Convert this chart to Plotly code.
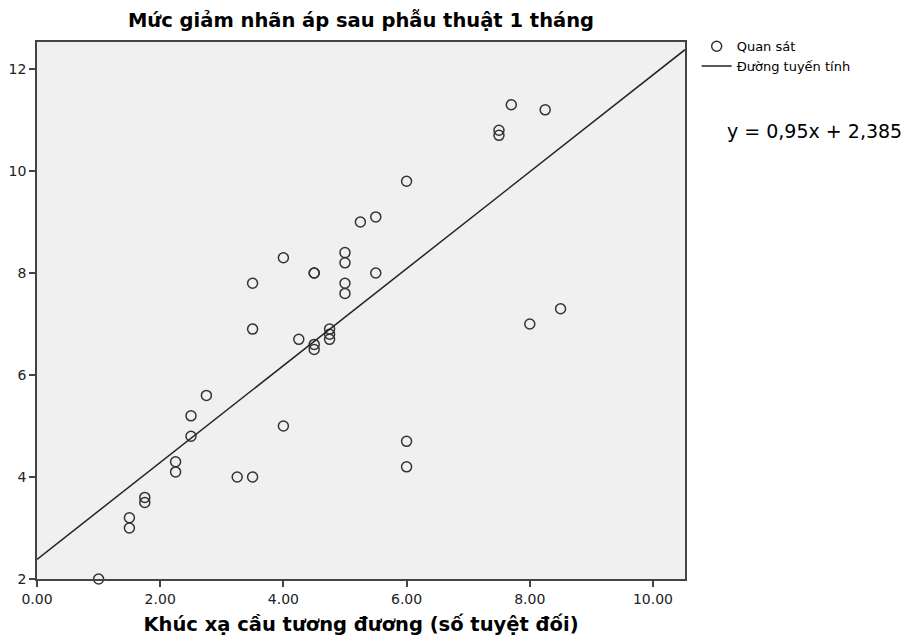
import plotly.graph_objects as go
import numpy as np

x_obs = [1.0, 1.5, 1.5, 1.75, 1.75, 2.25, 2.25, 2.5, 2.5, 2.75,
         3.25, 3.5, 3.5, 3.5, 4.0, 4.0, 4.25, 4.5, 4.5, 4.5, 4.5,
         4.75, 4.75, 4.75, 5.0, 5.0, 5.0, 5.0, 5.25, 5.5, 5.5,
         6.0, 6.0, 6.0, 7.5, 7.5, 7.7, 8.25, 8.0, 8.5]
y_obs = [2.0, 3.2, 3.0, 3.6, 3.5, 4.3, 4.1, 5.2, 4.8, 5.6,
         4.0, 4.0, 7.8, 6.9, 8.3, 5.0, 6.7, 8.0, 8.0, 6.6, 6.5,
         6.9, 6.8, 6.7, 8.4, 8.2, 7.8, 7.6, 9.0, 9.1, 8.0,
         9.8, 4.7, 4.2, 10.8, 10.7, 11.3, 11.2, 7.0, 7.3]

slope = 0.95
intercept = 2.385

x_range = [0, 10.52]
y_range = [2, 12.53]
x_ticks = [0, 2, 4, 6, 8, 10]
x_ticklabels = ["0.00", "2.00", "4.00", "6.00", "8.00", "10.00"]
y_ticks = [2, 4, 6, 8, 10, 12]
y_ticklabels = ["2", "4", "6", "8", "10", "12"]

title_text = "Mức giảm nhãn áp sau phẫu thuật 1 tháng"
xaxis_title = "Khúc xạ cầu tương đương (số tuyệt đối)"
equation = "y = 0,95x + 2,385"

FONT = "DejaVu Sans"

line_x = np.array(x_range)
line_y = slope * line_x + intercept

fig = go.Figure()
fig.add_trace(go.Scatter(
    x=x_obs, y=y_obs, mode="markers", name="Quan sát",
    marker=dict(symbol="circle-open", size=10, color="#333333",
                line=dict(width=1.5, color="#333333")),
    cliponaxis=False,
))
fig.add_trace(go.Scatter(
    x=line_x, y=line_y, mode="lines", name="Đường tuyến tính",
    line=dict(color="#222222", width=1.5),
))

axis_common = dict(
    showgrid=False, zeroline=False, showline=True, linecolor="#444444",
    linewidth=1.5, mirror=True, ticks="outside", ticklen=6, tickwidth=1.5,
    tickcolor="#444444", automargin=False,
    tickfont=dict(family=FONT, size=14, color="#222222"),
)

W, H = 902, 633  # page body has an 8px margin
ML, MT = 29, 34
PW, PH = 648, 537

fig.update_layout(
    width=W, height=H,
    margin=dict(l=ML, r=W - ML - PW, t=MT, b=H - MT - PH),
    paper_bgcolor="white", plot_bgcolor="#f0f0f0",
    title=dict(text="<b>" + title_text + "</b>", x=(ML + PW / 2) / W, xanchor="center",
               y=1 - 12 / H, yanchor="middle",
               font=dict(family=FONT, size=19.5, color="black")),
    xaxis=dict(range=x_range, tickvals=x_ticks, ticktext=x_ticklabels,
               title=dict(text="<b>" + xaxis_title + "</b>", standoff=12,
                          font=dict(family=FONT, size=19.5, color="black")),
               **axis_common),
    yaxis=dict(range=y_range, tickvals=y_ticks, ticktext=y_ticklabels, **axis_common),
    legend=dict(x=1.018, y=1.02, xanchor="left", yanchor="top",
                font=dict(family=FONT, size=13, color="black"),
                bgcolor="rgba(0,0,0,0)", tracegroupgap=0, itemwidth=30),
    showlegend=True,
    annotations=[dict(text=equation, xref="paper", yref="paper",
                      x=(725 - 37) / PW, y=(579 - 131) / PH, xanchor="left", yanchor="middle",
                      showarrow=False,
                      font=dict(family=FONT, size=19, color="black"))],
)

fig.write_html("out.html")
